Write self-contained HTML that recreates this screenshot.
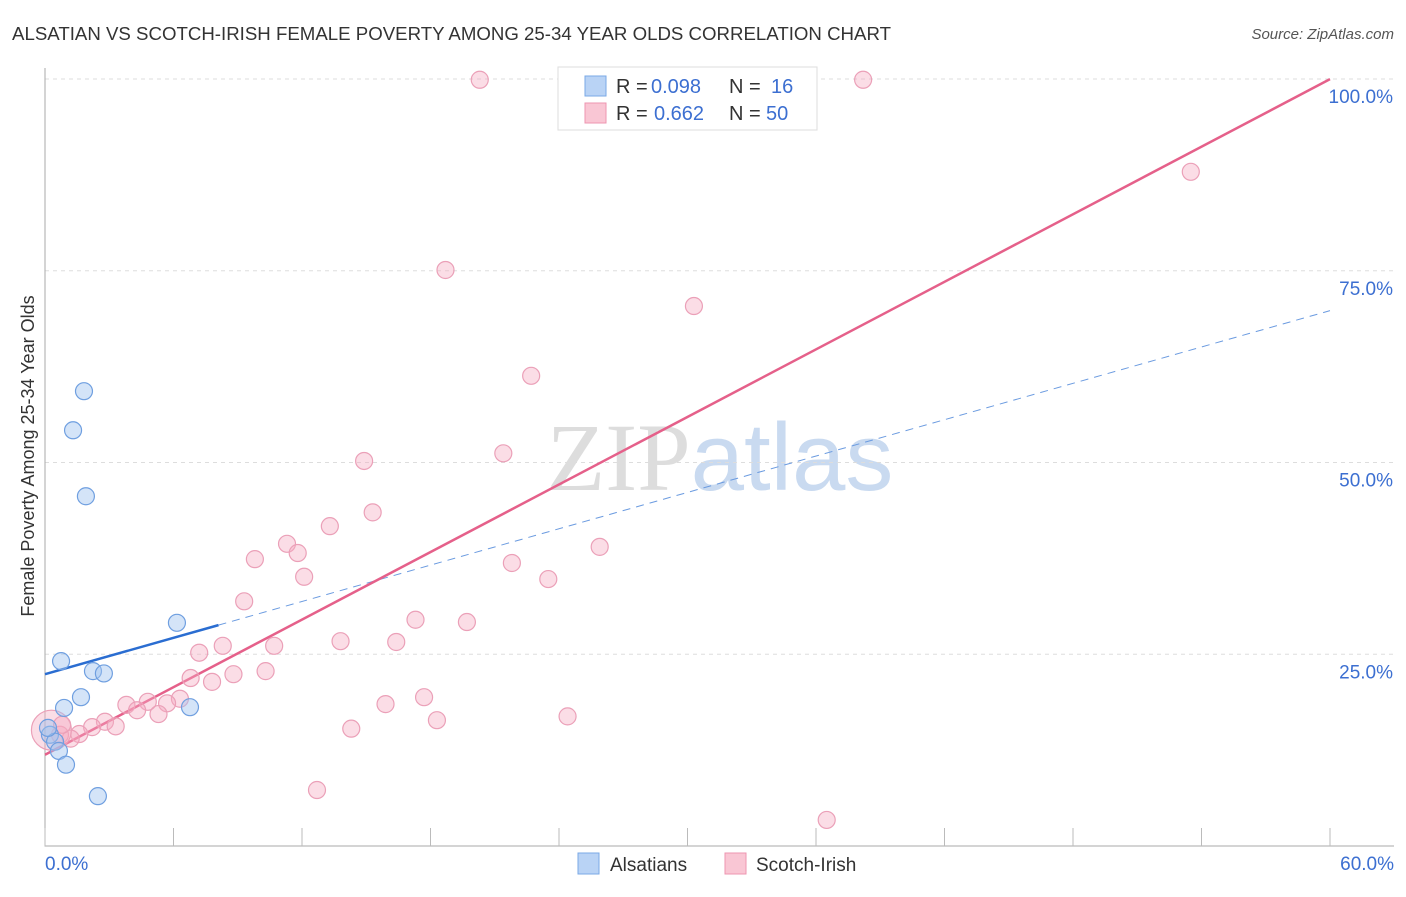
<!DOCTYPE html>
<html><head><meta charset="utf-8"><style>
body{margin:0;background:#fff;font-family:"Liberation Sans",sans-serif}
svg text{font-family:"Liberation Sans",sans-serif}
</style></head><body>
<svg id="chart" width="1406" height="892" xmlns="http://www.w3.org/2000/svg">
<text x="12" y="40" font-size="18" fill="#333" textLength="879" lengthAdjust="spacingAndGlyphs">ALSATIAN VS SCOTCH-IRISH FEMALE POVERTY AMONG 25-34 YEAR OLDS CORRELATION CHART</text>
<text x="1394" y="39" font-size="15" fill="#555" text-anchor="end" font-style="italic">Source: ZipAtlas.com</text>
<text x="720" y="490" font-size="96" text-anchor="middle"><tspan font-family="Liberation Serif" fill="#ddd">ZIP</tspan><tspan fill="#c9daf0">atlas</tspan></text>
<text transform="translate(34,456) rotate(-90)" font-size="18" fill="#333" text-anchor="middle">Female Poverty Among 25-34 Year Olds</text>
<g id="grid"></g><g id="axes"></g><g id="lines"></g><g id="pts"></g>
<g>
<rect x="558" y="67" width="259" height="63" fill="#fff" stroke="#ddd"/>
<rect x="585" y="76" width="21" height="20" fill="#b9d3f5" stroke="#7aa8e6"/>
<rect x="585" y="103" width="21" height="20" fill="#f9c6d4" stroke="#ee95b0"/>
<text x="616" y="93" font-size="20" fill="#333">R =</text>
<text x="651" y="93" font-size="20" fill="#3c6fd1">0.098</text>
<text x="729" y="93" font-size="20" fill="#333">N =</text>
<text x="771" y="93" font-size="20" fill="#3c6fd1">16</text>
<text x="616" y="120" font-size="20" fill="#333">R =</text>
<text x="654" y="120" font-size="20" fill="#3c6fd1">0.662</text>
<text x="729" y="120" font-size="20" fill="#333">N =</text>
<text x="766" y="120" font-size="20" fill="#3c6fd1">50</text>
</g>
<g>
<rect x="578" y="853" width="21" height="21" fill="#b9d3f5" stroke="#7aa8e6"/>
<text x="610" y="871" font-size="19" fill="#333">Alsatians</text>
<rect x="725" y="853" width="21" height="21" fill="#f9c6d4" stroke="#ee95b0"/>
<text x="756" y="871" font-size="19" fill="#333">Scotch-Irish</text>
</g>
</svg>
<script>
const blueX=[1.82,1.31,1.91,6.16,0.75,2.24,2.75,1.68,0.89,6.77,0.23,0.47,0.65,0.98,2.47,0.14];
const blueY=[59.3,54.2,45.6,29.1,24.1,22.8,22.5,19.4,18.0,18.1,14.5,13.6,12.4,10.6,6.5,15.4];
const pinkX=[20.3,38.2,53.5,18.7,30.3,22.7,14.9,21.4,15.3,13.3,11.3,11.8,9.8,25.9,21.8,12.1,23.5,9.3,17.3,19.7,8.3,10.7,13.8,16.4,7.2,6.8,7.8,8.8,10.3,17.7,15.9,3.8,4.8,6.3,5.7,4.3,5.3,24.4,18.3,2.8,3.3,2.2,14.3,1.6,1.2,0.7,0.3,12.7,36.5,0.8];
const pinkY=[99.9,99.9,87.9,75.1,70.4,61.3,50.2,51.2,43.5,41.7,39.4,38.2,37.4,39.0,36.9,35.1,34.8,31.9,29.5,29.2,26.1,26.1,26.7,26.6,25.2,21.9,21.4,22.4,22.8,19.4,18.5,18.4,18.8,19.2,18.6,17.7,17.2,16.9,16.4,16.2,15.6,15.5,15.3,14.6,14.0,14.5,15.1,7.3,3.4,15.8];
const yTicks=[25,50,75,100];
const xTickVals=[0,6,12,18,24,30,36,42,48,54,60];
const blueFit=[22.4,0.79]; const blueSolidEnd=8.1;
const pinkFit=[11.9,1.468];
const NS='http://www.w3.org/2000/svg';
const X=v=>45+v*1285/60, Y=v=>846-v*7.67;
function mk(p,t,a){const e=document.createElementNS(NS,t);for(const k in a)e.setAttribute(k,a[k]);document.getElementById(p).appendChild(e);return e;}
yTicks.forEach(v=>{
 let l=mk('grid','line',{x1:45,x2:1394,y1:Y(v),y2:Y(v),stroke:'#ddd','stroke-dasharray':'4,4'});
 
 
 let t=mk('grid','text',{x:1393,y:Y(v)+24,'font-size':19,fill:'#3c6fd1','text-anchor':'end'});t.textContent=v.toFixed(1)+'%';
 
 
});
let ax=mk('axes','path',{d:'M45,68V846H1394',stroke:'#aaa',fill:'none'});


xTickVals.forEach(v=>{let t=mk('axes','line',{x1:X(v),x2:X(v),y1:828,y2:846,stroke:'#bbb'});
 
 });
[[0,'start',45],[60,'end',1394]].forEach(a=>{let t=mk('axes','text',{x:a[2],y:870,'font-size':19,fill:'#3c6fd1','text-anchor':a[1]});t.textContent=a[0].toFixed(1)+'%';
 
 });
let bl=mk('lines','line',{x1:X(0),y1:Y(blueFit[0]),x2:X(blueSolidEnd),y2:Y(blueFit[0]+blueFit[1]*blueSolidEnd),stroke:'#2a6dd1','stroke-width':2.5});


let bd=mk('lines','line',{x1:X(blueSolidEnd),y1:Y(blueFit[0]+blueFit[1]*blueSolidEnd),x2:X(60),y2:Y(blueFit[0]+blueFit[1]*60),stroke:'#6b9be0','stroke-width':1,'stroke-dasharray':'8,6'});


let pl=mk('lines','line',{x1:X(0),y1:Y(pinkFit[0]),x2:X(60),y2:Y(pinkFit[0]+pinkFit[1]*60),stroke:'#e5608a','stroke-width':2.5});


pinkX.forEach((v,i)=>{let c=mk('pts','circle',{cx:X(v),cy:Y(pinkY[i]),r:i==46?20:8.5,fill:'rgba(246,170,192,0.4)',stroke:'#eba0b8','stroke-width':1.2});
 
 });
blueX.forEach((v,i)=>{let c=mk('pts','circle',{cx:X(v),cy:Y(blueY[i]),r:8.5,fill:'rgba(160,196,240,0.45)',stroke:'#6f9fe0','stroke-width':1.2});
 
 });
</script>
</body></html>
